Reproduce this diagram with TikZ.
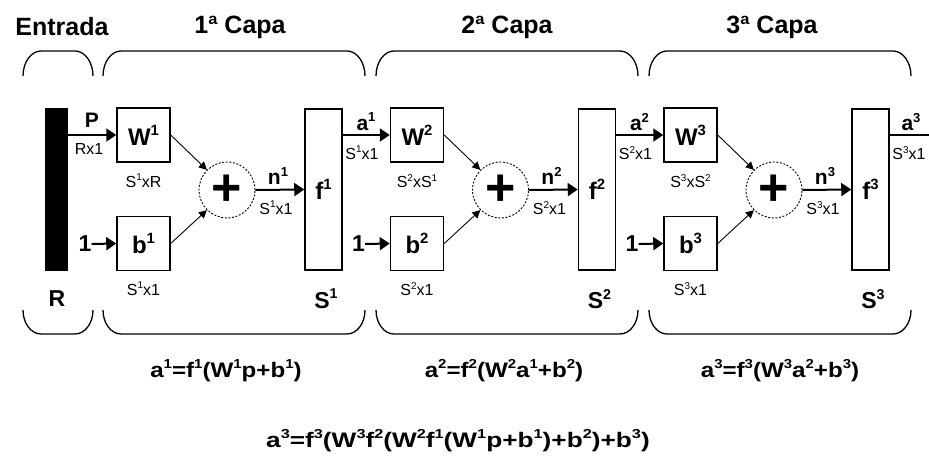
\documentclass[tikz,border=0pt]{standalone}
\usepackage{fontspec}
\setmainfont{Liberation Sans}
\usetikzlibrary{arrows.meta}
\newcommand\up[1]{\raisebox{0.42em}{\scalebox{0.62}{#1}}}
\newcommand\topbr[2]{\draw[brace] (#1,76) .. controls (#1,62.2) and ({#1+8.06},51) .. ({#1+18},51) -- ({#2-18},51) .. controls ({#2-8.06},51) and (#2,62.2) .. (#2,76);}
\newcommand\botbr[2]{\draw[brace] (#1,310) .. controls (#1,323.3) and ({#1+8.06},334) .. ({#1+18},334) -- ({#2-18},334) .. controls ({#2-8.06},334) and (#2,323.3) .. (#2,310);}
\begin{document}
\begin{tikzpicture}[x=1pt,y=-1pt,
  title/.style={font=\fontsize{25}{28}\selectfont\bfseries, inner sep=0},
  box/.style={draw, line width=1.5pt, minimum width=53pt, minimum height=54pt, inner sep=0, font=\fontsize{24}{26}\selectfont\bfseries},
  fbox/.style={draw, line width=1.5pt, minimum width=37pt, minimum height=161pt, inner sep=0, font=\fontsize{24}{26}\selectfont\bfseries},
  sumc/.style={draw, dash pattern=on 2pt off 1.6pt, line width=0.9pt, circle, minimum size=56pt, inner sep=0, font=\fontsize{52}{52}\selectfont\bfseries},
  dim/.style={font=\fontsize{16}{18}\selectfont, inner sep=0},
  sig/.style={font=\fontsize{21}{23}\selectfont\bfseries, inner sep=0},
  lbl/.style={font=\fontsize{23}{25}\selectfont\bfseries, inner sep=0},
  sigarrow/.style={line width=2pt, -{Triangle[length=10pt,width=13pt]}},
  diag/.style={line width=0.9pt, -{Triangle[length=8pt,width=8pt]}},
  brace/.style={line width=1.3pt},
  eq/.style={font=\fontsize{21}{24}\selectfont\bfseries, inner sep=0},
]
\useasboundingbox (0,0) rectangle (929,465);
\clip (0,0) rectangle (929,465);

% titles
\node[title] (tin) at (62,27) {Entrada};
\node[title] (t1) at (240,27) {1ª Capa};
\node[title] (t2) at (507,27) {2ª Capa};
\node[title] (t3) at (772,27) {3ª Capa};

% brackets
\topbr{23}{93}
\topbr{103}{365}
\topbr{376}{638}
\topbr{649}{911}
\botbr{23}{93}
\botbr{103}{365}
\botbr{376}{638}
\botbr{649}{911}

% input bar
\node[fill=black, minimum width=23pt, minimum height=163pt, inner sep=0] (bar) at (56.5,189.5) {};
\node[lbl] (R) at (57,299) {R};

% layers
\foreach \k/\dx in {1/0, 2/273.5, 3/547}{
  \node[box] (W\k) at ({143.5+\dx},135) {W\up{\k}};
  \node[box] (b\k) at ({143.5+\dx},243.5) {b\up{\k}};
  \node[sumc] (s\k) at ({227+\dx},190) {+};
  \node[fbox] (f\k) at ({323.5+\dx},189.5) {f\up{\k}};
  \draw[diag] (W\k.east) -- (s\k.135);
  \draw[diag] (b\k.east) -- (s\k.225);
  \draw[sigarrow] (s\k.east) -- (f\k.west);
  \node[sig] (n\k) at ({278+\dx},176) {n\up{\k}};
  \node[dim] (nd\k) at ({276+\dx},208) {S\up{\k}x1};
  \node[dim] (bd\k) at ({143.5+\dx},289) {S\up{\k}x1};
  \node[lbl] (one\k) at ({85+\dx},244) {1};
  \draw[sigarrow] (one\k.east) -- (b\k.west);
  \node[lbl] (S\k) at ({326+\dx},299) {S\up{\k}};
}
\node[dim] (wd1) at (143.5,181) {S\up{1}xR};
\node[dim] (wd2) at (417,181) {S\up{2}xS\up{1}};
\node[dim] (wd3) at (690.5,181) {S\up{3}xS\up{2}};

% layer inputs
\draw[sigarrow] (bar.east |- W1.west) -- (W1.west);
\node[sig] (P) at (92,120) {P};
\node[dim] (Pd) at (89,149) {Rx1};
\draw[sigarrow] (f1.east |- W2.west) -- (W2.west);
\node[sig] (a1) at (366,122) {a\up{1}};
\node[dim] (a1d) at (362,153) {S\up{1}x1};
\draw[sigarrow] (f2.east |- W3.west) -- (W3.west);
\node[sig] (a2) at (639.5,122) {a\up{2}};
\node[dim] (a2d) at (635.5,153) {S\up{2}x1};
\coordinate (out) at (940,135);
\draw[sigarrow] (f3.east |- out) -- (out);
\node[sig] (a3) at (911,122) {a\up{3}};
\node[dim] (a3d) at (909,153) {S\up{3}x1};

% equations
\node[eq] (e1) at (226,371) {\scalebox{1.15}[1]{a\up{1}=f\up{1}(W\up{1}p+b\up{1})}};
\node[eq] (e2) at (504,371) {\scalebox{1.15}[1]{a\up{2}=f\up{2}(W\up{2}a\up{1}+b\up{2})}};
\node[eq] (e3) at (780,371) {\scalebox{1.15}[1]{a\up{3}=f\up{3}(W\up{3}a\up{2}+b\up{3})}};
\node[eq] (e4) at (458,441) {\scalebox{1.25}[1]{a\up{3}=f\up{3}(W\up{3}f\up{2}(W\up{2}f\up{1}(W\up{1}p+b\up{1})+b\up{2})+b\up{3})}};
\end{tikzpicture}
\end{document}
